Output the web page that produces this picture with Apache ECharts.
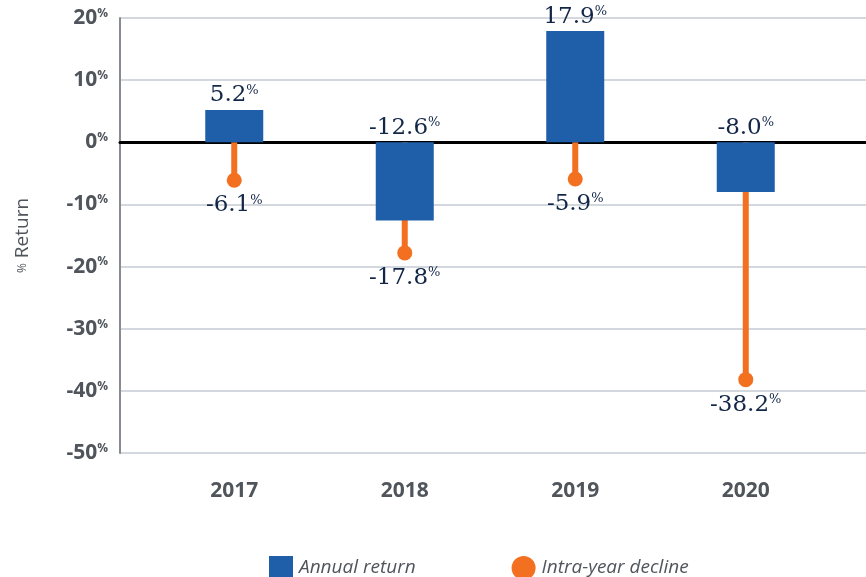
<!DOCTYPE html>
<html>
<head>
<meta charset="utf-8">
<script src="https://cdn.jsdelivr.net/npm/echarts@6/dist/echarts.min.js"></script>
<style>
  html, body { margin: 0; padding: 0; background: #fff; }
  #main { width: 866px; height: 577px; }
</style>
</head>
<body>
<div id="main"></div>
<script>
// 数据
var years = ['2017', '2018', '2019', '2020'];
var annualReturn = [5.2, -12.6, 17.9, -8.0];
var intraYearDecline = [-6.1, -17.8, -5.9, -38.2];
var yTicks = [-50, -40, -30, -20, -10, 0, 10, 20];

var BLUE = '#1f5faa';
var ORANGE = '#f37021';
var NAVY = '#122647';
var GREY = '#50555c';

var chart = echarts.init(document.getElementById('main'));

// 标签：数字 + 上标的 %
var valueLabel = {
  show: true,
  color: NAVY,
  formatter: function (p) {
    var v = Array.isArray(p.value) ? p.value[1] : p.value;
    return '{n|' + v.toFixed(1) + '}{p|%}';
  },
  rich: {
    n: { fontFamily: 'DejaVu Serif', fontSize: 23, color: NAVY },
    p: { fontFamily: 'DejaVu Serif', fontSize: 13, color: NAVY, verticalAlign: 'top', padding: [0, 0, 10, 0] }
  }
};

chart.setOption({
  animation: false,
  grid: [
    { left: 120, right: 0, top: 18, bottom: 124 },   // 网格线 + y轴
    { left: 149, right: 35, top: 18, bottom: 124 }   // 数据
  ],
  legend: {
    data: [
      { name: 'Annual return', icon: 'rect' },
      { name: 'Intra-year decline', icon: 'circle' }
    ],
    left: 264,
    top: 551,
    itemWidth: 24,
    itemHeight: 24,
    itemGap: 96,
    textStyle: { fontFamily: 'Open Sans', fontStyle: 'italic', fontSize: 19, color: GREY, padding: [0, 0, 0, 1] }
  },
  xAxis: [
    {
      gridIndex: 0, type: 'value', min: 0, max: 1,
      axisLine: { show: true, onZero: true, lineStyle: { color: '#000', width: 3 } },
      axisTick: { show: false }, axisLabel: { show: false }, splitLine: { show: false }
    },
    {
      gridIndex: 1, type: 'category', data: years,
      axisLine: { show: false }, axisTick: { show: false },
      axisLabel: { margin: 28, fontFamily: 'Open Sans', fontWeight: 'bold', fontSize: 21, color: GREY }
    },
    {
      gridIndex: 1, type: 'category', data: years, show: false
    }
  ],
  yAxis: [
    {
      gridIndex: 0, type: 'value', min: -50, max: 20, interval: 10,
      name: '{p|%} Return',
      nameLocation: 'middle',
      nameGap: 88,
      nameTextStyle: {
        fontFamily: 'Open Sans', fontSize: 19, color: GREY,
        rich: { p: { fontFamily: 'Open Sans', fontSize: 12, color: GREY } }
      },
      axisLine: { show: true, lineStyle: { color: '#888c91', width: 2 } },
      axisTick: { show: false },
      axisLabel: {
        margin: 12,
        formatter: function (v) { return '{n|' + v + '}{p|%}'; },
        rich: {
          n: { fontFamily: 'Open Sans', fontWeight: 'bold', fontSize: 21, color: GREY },
          p: { fontFamily: 'Open Sans', fontWeight: 'bold', fontSize: 12, color: GREY, verticalAlign: 'top', padding: [0, 0, 9, 0] }
        }
      },
      splitLine: { show: true, lineStyle: { color: '#d3d8de', width: 2 } }
    },
    { gridIndex: 1, type: 'value', min: -50, max: 20, interval: 10, show: false, splitLine: { show: false } }
  ],
  series: [
    {
      // 橙色竖线
      name: 'stem', type: 'bar', xAxisIndex: 2, yAxisIndex: 1,
      data: intraYearDecline, barWidth: 6, z: 1,
      itemStyle: { color: ORANGE }, silent: true
    },
    {
      name: 'Annual return', type: 'bar', xAxisIndex: 1, yAxisIndex: 1,
      data: annualReturn, barWidth: 58, z: 2,
      itemStyle: { color: BLUE },
      label: Object.assign({ position: 'top', distance: 3 }, valueLabel)
    },
    {
      name: 'Intra-year decline', type: 'scatter', xAxisIndex: 1, yAxisIndex: 1,
      data: intraYearDecline, symbol: 'circle', symbolSize: 15, z: 3,
      itemStyle: { color: ORANGE, opacity: 1 },
      label: Object.assign({ position: 'bottom', distance: 6 }, valueLabel)
    }
  ]
});
</script>
</body>
</html>
